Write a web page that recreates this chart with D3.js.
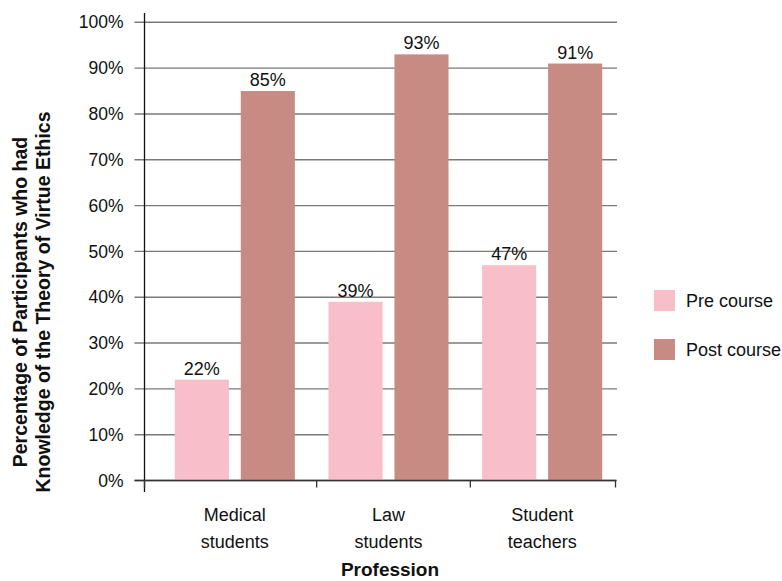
<!DOCTYPE html>
<html>
<head>
<meta charset="utf-8">
<script src="https://cdn.jsdelivr.net/npm/d3@7"></script>
<style>
  html, body { margin: 0; padding: 0; background: #fff; }
  svg text { font-family: "Liberation Sans", Arial, Helvetica, sans-serif; fill: #111; }
</style>
</head>
<body>
<svg id="chart" width="782" height="581"></svg>
<script>
// Knowledge of the theory of virtue ethics, before and after the course
const categories = [["Medical", "students"], ["Law", "students"], ["Student", "teachers"]];
const series = ["Pre course", "Post course"];
const preCourse = [22, 39, 47];
const postCourse = [85, 93, 91];
const yTicks = [0, 10, 20, 30, 40, 50, 60, 70, 80, 90, 100];
const colors = ["#F8BEC9", "#C78B84"];

const svg = d3.select("#chart");
const catKeys = categories.map(c => c.join(" "));
const values = [preCourse, postCourse];

const axisX = 144.5, plotRight = 617;
const y = d3.scaleLinear().domain([0, 100]).range([480.5, 22.3]);
const x0 = d3.scaleBand().domain(catKeys).range([158, 619]);
const x1 = d3.scaleBand().domain(series).range([16.8, x0.bandwidth() - 16.8]).paddingInner(0.18);

// horizontal gridlines with outside tick marks
const grid = svg.append("g");
grid.selectAll("line").data(yTicks).join("line")
  .attr("x1", axisX - 10).attr("x2", plotRight)
  .attr("y1", d => y(d)).attr("y2", d => y(d))
  .attr("stroke", "#7a7a7a").attr("stroke-width", 1.4);

grid.selectAll("text").data(yTicks).join("text")
  .attr("x", axisX - 21).attr("y", d => y(d)).attr("dy", "0.35em")
  .attr("text-anchor", "end").attr("font-size", 17.5)
  .text(d => d + "%");

// bars
const groups = svg.append("g").selectAll("g").data(catKeys).join("g")
  .attr("transform", d => `translate(${x0(d)},0)`);

groups.selectAll("rect").data((d, i) => series.map((s, j) => ({ s, v: values[j][i], j })))
  .join("rect")
  .attr("x", d => x1(d.s)).attr("width", x1.bandwidth())
  .attr("y", d => y(d.v)).attr("height", d => y(0) - y(d.v))
  .attr("fill", d => colors[d.j]);

groups.selectAll("text.val").data((d, i) => series.map((s, j) => ({ s, v: values[j][i] })))
  .join("text").attr("class", "val")
  .attr("x", d => x1(d.s) + x1.bandwidth() / 2).attr("y", d => y(d.v) - 5)
  .attr("text-anchor", "middle").attr("font-size", 18)
  .text(d => d.v + "%");

// axes
svg.append("line").attr("x1", axisX).attr("x2", axisX).attr("y1", 13).attr("y2", 492)
  .attr("stroke", "#111").attr("stroke-width", 1.3);
svg.append("line").attr("x1", axisX - 10).attr("x2", 616).attr("y1", y(0)).attr("y2", y(0))
  .attr("stroke", "#333").attr("stroke-width", 1.4);

// category separators on the x axis
const sepX = [axisX].concat(catKeys.slice(1).map(k => x0(k) + 5), [615.5]);
svg.append("g").selectAll("line").data(sepX).join("line")
  .attr("x1", d => d).attr("x2", d => d).attr("y1", y(0)).attr("y2", y(0) + 7)
  .attr("stroke", "#333").attr("stroke-width", 1.3);

// category labels
const catLabels = svg.append("g").selectAll("text").data(categories).join("text")
  .attr("text-anchor", "middle").attr("font-size", 18)
  .attr("transform", (d, i) => `translate(${x0(catKeys[i]) + x0.bandwidth() / 2},0)`);
catLabels.selectAll("tspan").data(d => d).join("tspan")
  .attr("x", 0).attr("y", (d, i) => 521 + i * 27)
  .text(d => d);

// axis titles
svg.append("text").attr("x", 390).attr("y", 576)
  .attr("text-anchor", "middle").attr("font-size", 19).attr("font-weight", "bold")
  .text("Profession");

const yTitle = svg.append("text").attr("transform", "translate(0,302) rotate(-90)")
  .attr("text-anchor", "middle").attr("font-size", 19.5).attr("font-weight", "bold");
yTitle.append("tspan").attr("x", 0).attr("y", 27).text("Percentage of Participants who had");
yTitle.append("tspan").attr("x", 0).attr("y", 50).text("Knowledge of the Theory of Virtue Ethics");

// legend
const legend = svg.append("g").selectAll("g").data(series).join("g")
  .attr("transform", (d, i) => `translate(654,${290 + i * 49})`);
legend.append("rect").attr("width", 21).attr("height", 21).attr("fill", (d, i) => colors[i]);
legend.append("text").attr("x", 32).attr("y", 10.5).attr("dy", "0.35em")
  .attr("font-size", 18).text(d => d);
</script>
</body>
</html>
